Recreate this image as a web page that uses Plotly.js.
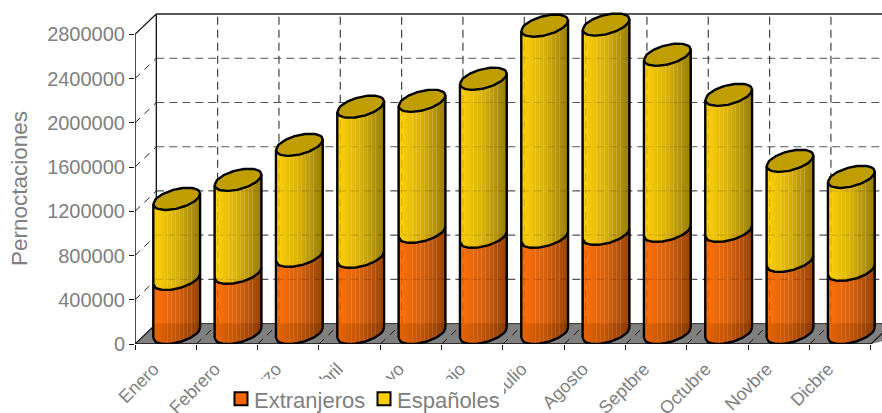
<!DOCTYPE html>
<html><head><meta charset="utf-8">
<script src="https://cdn.plot.ly/plotly-3.0.1.min.js"></script>
<style>html,body{margin:0;padding:0;background:#fff}#c{width:882px;height:413px}</style>
</head><body><div id="c"></div>
<script>
const months=['Enero','Febrero','Marzo','Abril','Mayo','Junio','Julio','Agosto','Septbre','Octubre','Novbre','Dicbre'];
const extranjeros=[488000,543000,697000,688000,914000,869000,869000,896000,923000,923000,651000,570000];
const espanoles=[724000,841000,1004000,1357000,1185000,1429000,1909000,1892000,1592000,1230000,905000,841000];
const yTicks=[0,400000,800000,1200000,1600000,2000000,2400000,2800000];
const yLabels=['0','400000','800000','1200000','1600000','2000000','2400000','2800000'];

const W=882,H=413,ML=135,MB=69,PW=W-ML,PH=H-MB;
const pxX=61.33, pxY=309.7/2800000;
const xMax=PW/pxX, yMax=PH/pxY;
const dx=21.3/pxX, dy=20.3/pxY;
const cOff=41.7/pxX, halfW=23.4/pxX;
const sk=5.2/pxY, bk=9.8/pxY, lift=Math.hypot(sk,bk);
const N=47;
const centers=months.map((m,i)=>i+cOff);
const front=(v,u)=>v+lift+sk*u-bk*Math.sqrt(Math.max(0,1-u*u));
const back=(v,u)=>v+lift+sk*u+bk*Math.sqrt(Math.max(0,1-u*u));
const mix=(a,b,t)=>a.map((c,i)=>Math.round(c+(b[i]-c)*t));
function stripColour(k,bright,mid,dark){
  const t=k/(N-1);
  let c=t<0.5?mix(bright,mid,t/0.5):mix(mid,dark,(t-0.5)/0.5);
  if(k>=14&&k<=40&&k%4===2) c=mix(c,[255,255,255],0.14);
  return `rgb(${c.join(',')})`;
}
function strips(lows,highs,bright,mid,dark,name){
  const x=[],base=[],y=[],col=[];
  months.forEach((m,i)=>{
    const startPx=Math.floor(ML+centers[i]*pxX-N/2);
    for(let k=0;k<N;k++){
      // cada tira ocupa exactamente una columna de píxeles
      const xv=(startPx+k+0.5-ML)/pxX;
      const u=Math.max(-1,Math.min(1,(xv-centers[i])/halfW));
      const b=front(lows[i],u),t=front(highs[i],u)+bk*0.3;
      x.push(xv);base.push(b);y.push(t-b);
      col.push(stripColour(k,bright,mid,dark));
    }
  });
  return {type:'bar',x,y,base,width:0.96/pxX,name,showlegend:false,hoverinfo:'skip',
    marker:{color:col,line:{width:0}},cliponaxis:false};
}
const totals=extranjeros.map((v,i)=>v+espanoles[i]);
const zeros=months.map(()=>0);
const traces=[
  strips(zeros,extranjeros,[255,108,0],[216,90,0],[150,62,0],'Extranjeros (cilindro)'),
  strips(extranjeros,totals,[255,208,0],[216,174,0],[150,122,0],'Españoles (cilindro)')
];
const U=[];for(let j=0;j<=40;j++)U.push(j/20-1);
// suelo visto a través del cilindro
const fx=[],fy=[];
months.forEach((m,i)=>{
  U.forEach(u=>{fx.push(centers[i]+u*halfW);fy.push(front(0,u));});
  fx.push(centers[i]+halfW,centers[i]-halfW,null);fy.push(dy,dy,null);
});
traces.push({type:'scatter',mode:'none',x:fx,y:fy,fill:'toself',fillcolor:'rgba(0,0,0,0.08)',showlegend:false,hoverinfo:'skip',cliponaxis:false});
// rejilla vista a través del cilindro
const gx=[],gy=[];
months.forEach((m,i)=>{
  yTicks.slice(1,-1).forEach(v=>{
    if(v+dy<totals[i]){gx.push(centers[i]-halfW,centers[i]+halfW,null);gy.push(v+dy,v+dy,null);}
  });
  if(i>0){gx.push(i+dx,i+dx,null);gy.push(dy,totals[i]+dy*0.5,null);}
});
traces.push({type:'scatter',mode:'lines',x:gx,y:gy,line:{color:'rgba(0,0,0,0.1)',width:1.2,dash:'8px,5px'},showlegend:false,hoverinfo:'skip',cliponaxis:false});
// tapas
const capX=[],capY=[];
months.forEach((m,i)=>{
  U.forEach(u=>{capX.push(centers[i]+u*halfW);capY.push(back(totals[i],u));});
  U.slice().reverse().forEach(u=>{capX.push(centers[i]+u*halfW);capY.push(front(totals[i],u));});
  capX.push(null);capY.push(null);
});
traces.push({type:'scatter',mode:'lines',x:capX,y:capY,fill:'toself',fillcolor:'#c09e00',
  line:{color:'#000',width:2.4},showlegend:false,hoverinfo:'skip',cliponaxis:false});
// contornos
const lx=[],ly=[];
months.forEach((m,i)=>{
  [0,extranjeros[i]].forEach(v=>{
    U.forEach(u=>{lx.push(centers[i]+u*halfW);ly.push(front(v,u));});
    lx.push(null);ly.push(null);
  });
  [-1,1].forEach(u=>{
    lx.push(centers[i]+u*halfW,centers[i]+u*halfW,null);
    ly.push(front(0,u),front(totals[i],u),null);
  });
});
traces.push({type:'scatter',mode:'lines',x:lx,y:ly,line:{color:'#000',width:2.4},showlegend:false,hoverinfo:'skip',cliponaxis:false});
// leyenda
traces.push({type:'bar',x:[months.length+5],y:[null],name:'Extranjeros',marker:{color:'#ff6600',line:{color:'#000',width:2}},hoverinfo:'skip'});
traces.push({type:'bar',x:[months.length+5],y:[null],name:'Españoles',marker:{color:'#ffcc00',line:{color:'#000',width:2}},hoverinfo:'skip'});

const seg=(x0,y0,x1,y1,color,width,dash)=>({type:'line',layer:'below',xref:'x',yref:'y',x0,y0,x1,y1,line:{color,width,dash}});
const wallTop=2800000;
const shapes=[];
shapes.push({type:'path',layer:'below',xref:'x',yref:'y',
  path:`M0,0 L${dx},${dy} L${xMax+1},${dy} L${12+dx+1},${dy} L12,0 Z`,fillcolor:'#808080',line:{width:0}});
yTicks.slice(1,-1).forEach(v=>{
  shapes.push(seg(dx,v+dy,xMax+1,v+dy,'#555',1.2,'8px,5px'));
  shapes.push(seg(0,v,dx,v+dy,'#222',1,'7px,6px'));
});
for(let i=1;i<=12;i++){
  shapes.push(seg(i+dx,dy,i+dx,wallTop+dy,'#444',1.2,'8px,5px'));
}
for(let i=1;i<12;i++) shapes.push(seg(i,0,i+dx,dy,'#111',1,'7px,6px'));
shapes.push(seg(dx,wallTop+dy,xMax+1,wallTop+dy,'#222',1.4,'solid'));
shapes.push(seg(dx,dy,dx,wallTop+dy,'#111',1.3,'solid'));
shapes.push(seg(0,wallTop,dx,wallTop+dy,'#111',1.2,'solid'));
shapes.push(seg(0,0,dx,dy,'#111',1.2,'solid'));
shapes.push(seg(dx,dy,xMax+1,dy,'#444',1.2,'solid'));
shapes.push(seg(0,0,0,wallTop,'#111',1.5,'solid'));
shapes.push(seg(0,0,12,0,'#111',1.5,'solid'));
shapes.push(seg(12,0,12+dx,dy,'#111',1.2,'solid'));
// prolonga el fondo blanco de la leyenda
shapes.push({type:'rect',layer:'above',xref:'paper',yref:'paper',
  x0:(490-ML)/PW,x1:(504-ML)/PW,y0:(PH-413)/PH,y1:(PH-380)/PH,fillcolor:'#fff',line:{width:0}});

const layout={
  width:W,height:H,autosize:false,paper_bgcolor:'#fff',plot_bgcolor:'#fff',
  margin:{l:ML,r:0,t:0,b:MB,autoexpand:false},
  font:{family:'"Liberation Sans",Arial,sans-serif',color:'#808080'},
  barmode:'overlay',
  shapes,
  xaxis:{type:'linear',range:[0,xMax],showgrid:false,zeroline:false,showline:false,
    tickmode:'array',tickvals:months.map((m,i)=>i+0.5),ticktext:months,ticks:'',
    tickangle:-45,tickfont:{size:18,color:'#808080'},ticklabelstandoff:10,ticklabelshift:-12,
    minor:{tickmode:'array',tickvals:[0,1,2,3,4,5,6,7,8,9,10,11,12],ticks:'outside',ticklen:5,tickwidth:1,tickcolor:'#111',showgrid:false}},
  yaxis:{range:[0,yMax],showgrid:false,zeroline:false,showline:false,
    tickmode:'array',tickvals:yTicks,ticktext:yLabels,ticks:'outside',ticklen:5,tickwidth:1,tickcolor:'#111',
    tickfont:{size:20,color:'#808080'}},
  annotations:[{text:'Pernoctaciones',xref:'paper',yref:'paper',x:(19.5-ML)/PW,y:(PH-188.5)/PH,xanchor:'center',yanchor:'middle',
    textangle:-90,showarrow:false,font:{size:22.5,color:'#808080'}}],
  legend:{orientation:'h',x:(214-ML)/PW,xanchor:'left',y:(PH-379)/PH,yanchor:'top',bgcolor:'#fff',borderwidth:0,
    entrywidth:98,entrywidthmode:'pixels',
    font:{size:22,color:'#808080'},itemclick:false,itemdoubleclick:false},
  showlegend:true
};
Plotly.newPlot('c',traces,layout,{displayModeBar:false,staticPlot:true}).then(gd=>{
  gd.querySelectorAll('.legend .legendsymbols').forEach(g=>{
    g.setAttribute('transform','translate(7,-1)');
  });
  gd.querySelectorAll('.legend .legendpoints path').forEach(p=>{
    p.setAttribute('d','M6.5,6.5H-6.5V-6.5H6.5Z');
  });
});
</script></body></html>
